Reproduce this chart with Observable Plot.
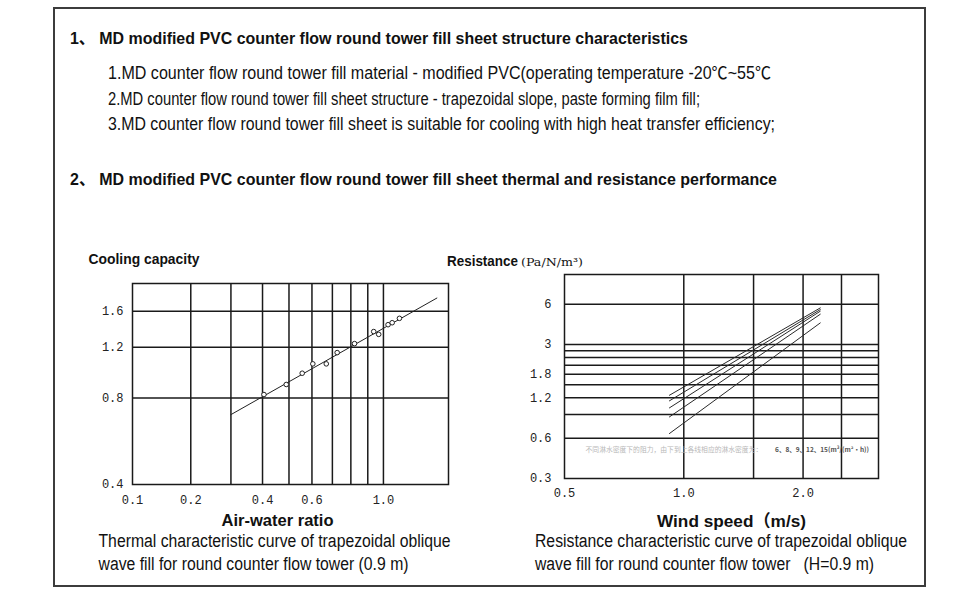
<!DOCTYPE html>
<html>
<head>
<meta charset="utf-8">
<script src="https://cdn.jsdelivr.net/npm/d3@7"></script>
<script src="https://cdn.jsdelivr.net/npm/@observablehq/plot@0.6"></script>
<style>
  html, body { margin: 0; padding: 0; background: #fff; }
  #page { position: relative; width: 970px; height: 599px; overflow: hidden; background: #fff; }
  #frame { position: absolute; left: 53px; top: 7px; width: 873px; height: 580px; border: 2px solid #3c3c3c; box-sizing: border-box; }
  .chart { position: absolute; }
  #chart1 { left: 80px; top: 270px; }
  #chart2 { left: 520px; top: 262px; }
  #texts { position: absolute; left: 0; top: 0; pointer-events: none; }
  #texts text { white-space: pre; fill: #111; }
</style>
</head>
<body>
<div id="page">
  <div id="frame"></div>
  <div id="chart1" class="chart"></div>
  <div id="chart2" class="chart"></div>
  <svg id="texts" width="970" height="599" xmlns="http://www.w3.org/2000/svg"></svg>
</div>
<script>
// ---------- Chart 1: thermal characteristic (cooling capacity vs air-water ratio)
const airWaterRatio   = [0.405, 0.489, 0.556, 0.604, 0.669, 0.725, 0.821, 0.937, 0.969, 1.031, 1.059, 1.110];
const coolingCapacity = [0.822, 0.891, 0.975, 1.051, 1.051, 1.150, 1.236, 1.361, 1.331, 1.438, 1.461, 1.513];
const fitRatio    = [0.30, 1.40];
const fitCapacity = [0.70, 1.78];
const ratioTicks    = [0.1, 0.2, 0.4, 0.6, 1.0];
const ratioGrid     = [0.2, 0.3, 0.4, 0.5, 0.6, 0.7, 0.8, 0.9, 1.0];
const capacityTicks = [0.4, 0.8, 1.2, 1.6];
const capacityGrid  = [0.8, 1.2, 1.6];

// ---------- Chart 2: resistance vs wind speed, one line per water-spray density
const sprayDensity      = [6, 8, 9, 12, 15];
const windSpeedRange    = [0.92, 2.21];
const resistanceAtStart = [0.65, 0.865, 1.01, 1.14, 1.255];
const resistanceAtEnd   = [4.35, 5.05, 5.32, 5.47, 5.63];
const speedTicks      = [0.5, 1.0, 2.0];
const speedGrid       = [1.0, 1.5, 2.0, 2.5];
const resistanceTicks = [0.3, 0.6, 1.2, 1.8, 3, 6];
const resistanceGrid  = [0.6, 0.9, 1.2, 1.5, 1.8, 2.1, 2.4, 2.7, 3, 6];
const noteText  = "不同淋水密度下的阻力，由下到上各线相应的淋水密度为：";
const noteUnits = "6、8、9、12、15(m³/(m²·h))";

const gridStyle = {stroke: "#1a1a1a", strokeWidth: 1.5};
const tickFont = "'Liberation Mono', 'DejaVu Sans Mono', monospace";

const points = airWaterRatio.map((r, i) => ({r, c: coolingCapacity[i]}));
const fitLine = fitRatio.map((r, i) => ({r, c: fitCapacity[i]}));

const chart1 = Plot.plot({
  width: 380, height: 245,
  marginLeft: 52, marginRight: 12, marginTop: 13, marginBottom: 31,
  x: {type: "pow", exponent: 0.3, domain: [0.1, 1.5]},
  y: {type: "log", domain: [0.4, 2.0], axis: null},
  style: {fontFamily: tickFont, fontSize: "12px", color: "#222", background: "transparent"},
  marks: [
    Plot.ruleX(ratioGrid, gridStyle),
    Plot.ruleY(capacityGrid, gridStyle),
    Plot.frame(gridStyle),
    Plot.line(fitLine, {x: "r", y: "c", stroke: "#222", strokeWidth: 1}),
    Plot.dot(points, {x: "r", y: "c", r: 2.3, stroke: "#222", fill: "white", strokeWidth: 1}),
    Plot.axisX({ticks: ratioTicks, tickSize: 0, tickPadding: 11, tickFormat: d => d.toFixed(1), label: null}),
    Plot.text(capacityTicks, {y: d => d, frameAnchor: "left", textAnchor: "end", dx: -9, text: d => d.toFixed(1), fill: "#222"})
  ]
});
document.getElementById("chart1").appendChild(chart1);

const resistanceLines = sprayDensity.flatMap((d, i) => [
  {d, v: windSpeedRange[0], p: resistanceAtStart[i]},
  {d, v: windSpeedRange[1], p: resistanceAtEnd[i]}
]);

const chart2 = Plot.plot({
  width: 370, height: 240,
  marginLeft: 44, marginRight: 12, marginTop: 12, marginBottom: 24,
  x: {type: "log", domain: [0.5, 3.1]},
  y: {type: "log", domain: [0.3, 10], axis: null},
  style: {fontFamily: tickFont, fontSize: "12px", color: "#222", background: "transparent"},
  marks: [
    Plot.ruleX(speedGrid, gridStyle),
    Plot.ruleY(resistanceGrid, gridStyle),
    Plot.frame(gridStyle),
    Plot.line(resistanceLines, {x: "v", y: "p", z: "d", stroke: "#2a2a2a", strokeWidth: 1}),
    Plot.text([noteText], {x: 0.565, y: 0.49, text: d => d, textAnchor: "start", fontSize: 6.8, fill: "#b8b8b8", fontFamily: "'Noto Sans CJK SC', sans-serif"}),
    Plot.text([noteUnits], {x: 1.70, y: 0.49, text: d => d, textAnchor: "start", fontSize: 6.5, fontWeight: "bold", fill: "#555", fontFamily: "'Noto Sans CJK SC', sans-serif"}),
    Plot.axisX({ticks: speedTicks, tickSize: 0, tickPadding: 10, tickFormat: d => d.toFixed(1), label: null}),
    Plot.text(resistanceTicks, {y: d => d, frameAnchor: "left", textAnchor: "end", dx: -13, text: d => (d >= 3 ? String(d) : d.toFixed(1)), fill: "#222"})
  ]
});
document.getElementById("chart2").appendChild(chart2);

// ---------- Page texts (headings, notes, axis titles, captions)
const sans = "'Liberation Sans', Arial, 'Noto Sans CJK SC', sans-serif";
const texts = [
  {t: "1、 MD modified PVC counter flow round tower fill sheet structure characteristics", x: 70, y: 44, s: 16.5, w: "bold", len: 618},
  {t: "1.MD counter flow round tower fill material - modified PVC(operating temperature -20℃~55℃", x: 108, y: 79, s: 17.5, w: "normal", len: 663},
  {t: "2.MD counter flow round tower fill sheet structure - trapezoidal slope, paste forming film fill;", x: 108, y: 104.5, s: 17.5, w: "normal", len: 592},
  {t: "3.MD counter flow round tower fill sheet is suitable for cooling with high heat transfer efficiency;", x: 108, y: 130, s: 17.5, w: "normal", len: 667},
  {t: "2、 MD modified PVC counter flow round tower fill sheet thermal and resistance performance", x: 70, y: 184.5, s: 16.5, w: "bold", len: 707},
  {t: "Cooling capacity", x: 88.5, y: 264, s: 15, w: "bold", len: 111},
  {t: "Resistance", x: 447, y: 266, s: 15, w: "bold", len: 71},
  {t: "(Pa/N/m³)", x: 521, y: 266, s: 11, w: "normal", len: 62, f: "'DejaVu Serif', 'Liberation Serif', serif"},
  {t: "Air-water ratio", x: 221.5, y: 526, s: 17, w: "bold", len: 112},
  {t: "Wind speed（m/s)", x: 657, y: 526.5, s: 17, w: "bold", len: 149},
  {t: "Thermal characteristic curve of trapezoidal oblique", x: 98.5, y: 547, s: 18, w: "normal", len: 352},
  {t: "wave fill for round counter flow tower (0.9 m)", x: 98.5, y: 569.5, s: 18, w: "normal", len: 310},
  {t: "Resistance characteristic curve of trapezoidal oblique", x: 535, y: 547, s: 18, w: "normal", len: 372},
  {t: "wave fill for round counter flow tower\u00a0\u00a0\u00a0(H=0.9 m)", x: 535, y: 569.5, s: 18, w: "normal", len: 339}
];
const svg = d3.select("#texts");
svg.selectAll("text").data(texts).join("text")
  .attr("x", d => d.x)
  .attr("y", d => d.y)
  .attr("font-family", d => d.f || sans)
  .attr("font-size", d => d.s)
  .attr("font-weight", d => d.w)
  .attr("textLength", d => d.len)
  .attr("lengthAdjust", "spacingAndGlyphs")
  .text(d => d.t);
</script>
</body>
</html>
